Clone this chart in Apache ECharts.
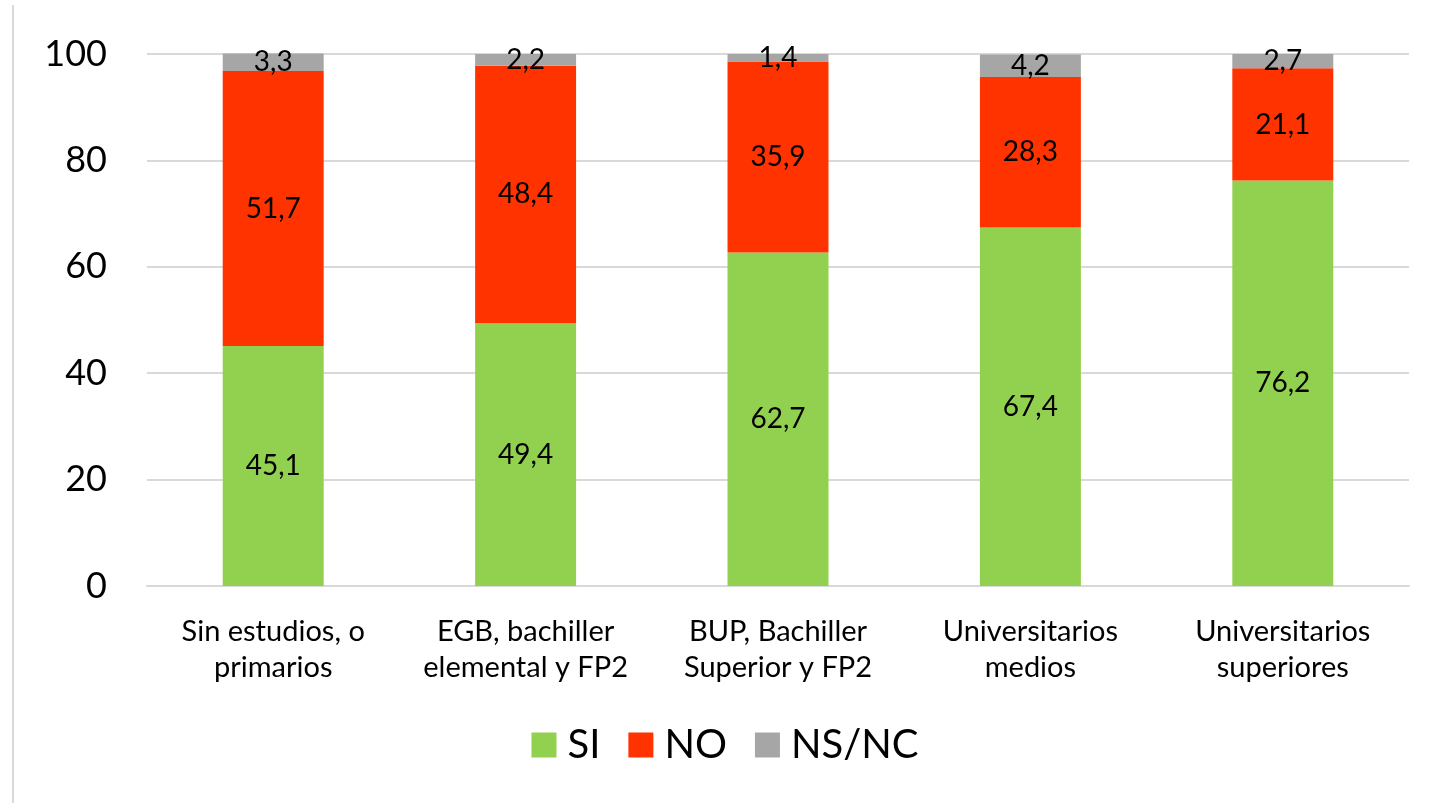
<!DOCTYPE html>
<html>
<head>
<meta charset="utf-8">
<script src="https://cdn.jsdelivr.net/npm/echarts@6/dist/echarts.min.js"></script>
<style>
    html, body { margin: 0; padding: 0; background: #fff; }
    .frame {
        position: absolute;
        left: 12px;
        top: 5px;
        width: 1436px;
        height: 798px;
        border-left: 2px solid #d9d9d9;
        border-right: 2px solid #d9d9d9;
    }
    #chart { position: absolute; left: 0; top: 0; width: 1450px; height: 803px; }
</style>
</head>
<body>
<div class="frame"></div>
<div id="chart"></div>
<script>
// categorias (nivel de estudios)
const categories = [
    "Sin estudios, o\nprimarios",
    "EGB, bachiller\nelemental y FP2",
    "BUP, Bachiller\nSuperior y FP2",
    "Universitarios\nmedios",
    "Universitarios\nsuperiores"
];
const siValues = [45.1, 49.4, 62.7, 67.4, 76.2];
const noValues = [51.7, 48.4, 35.9, 28.3, 21.1];
const nsncValues = [3.3, 2.2, 1.4, 4.2, 2.7];
const yTicks = [0, 20, 40, 60, 80, 100];

const FONT = "Lato";

function barSeries(name, values, color) {
    return {
        name: name,
        type: "bar",
        stack: "total",
        data: values,
        barWidth: "40%",
        clip: false,
        itemStyle: { color: color },
        label: {
            show: true,
            position: "inside",
            color: "#000",
            fontFamily: FONT,
            fontSize: 28,
            formatter: (p) => String(p.value).replace(".", ",")
        }
    };
}

var myChart = echarts.init(document.getElementById("chart"));
myChart.setOption({
    animation: false,
    textStyle: { fontFamily: FONT },
    grid: { left: 147, right: 41, top: 54, bottom: 217 },
    legend: {
        bottom: 33,
        left: "center",
        itemWidth: 25,
        itemHeight: 25,
        itemGap: 28,
        icon: "rect",
        textStyle: { fontFamily: FONT, fontSize: 40, color: "#000", padding: [0, 0, 0, 6] },
        data: ["SI", "NO", "NS/NC"]
    },
    xAxis: {
        type: "category",
        data: categories,
        axisTick: { show: false },
        axisLine: { lineStyle: { color: "#d9d9d9", width: 2 } },
        axisLabel: {
            color: "#000",
            fontFamily: FONT,
            fontSize: 29,
            lineHeight: 36,
            margin: 28,
            interval: 0
        }
    },
    yAxis: {
        type: "value",
        min: yTicks[0],
        max: yTicks[yTicks.length - 1],
        interval: 20,
        axisLine: { show: false },
        axisTick: { show: false },
        axisLabel: {
            color: "#000",
            fontFamily: FONT,
            fontSize: 36,
            margin: 40
        },
        splitLine: { lineStyle: { color: "#d9d9d9", width: 2 } }
    },
    series: [
        barSeries("SI", siValues, "#92D050"),
        barSeries("NO", noValues, "#FF3300"),
        barSeries("NS/NC", nsncValues, "#A6A6A6")
    ]
});
</script>
</body>
</html>
